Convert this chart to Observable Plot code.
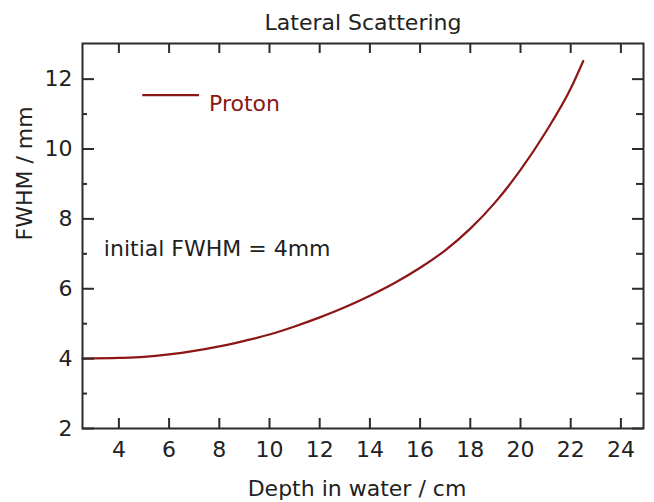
<!DOCTYPE html>
<html>
<head>
<meta charset="utf-8">
<script src="https://cdn.jsdelivr.net/npm/d3@7"></script>
<script src="https://cdn.jsdelivr.net/npm/@observablehq/plot@0.6"></script>
<style>
  html, body { margin: 0; padding: 0; background: #fff; }
  #chart { width: 654px; height: 502px; }
</style>
</head>
<body>
<div id="chart"></div>
<script>
// ---- data ----
const depth = [2.55, 4, 5, 6, 7, 8, 9, 10, 11, 12, 13, 14, 15, 16, 17, 18, 19, 20, 21, 22, 22.5];
const fwhm  = [4.00, 4.02, 4.05, 4.12, 4.22, 4.35, 4.51, 4.69, 4.92, 5.18, 5.47, 5.80, 6.17, 6.60, 7.10, 7.72, 8.48, 9.40, 10.48, 11.73, 12.52];

const xTicks = [4, 6, 8, 10, 12, 14, 16, 18, 20, 22, 24];
const yMajor = [2, 4, 6, 8, 10, 12];
const yMinor = [3, 5, 7, 9, 11];

const title = "Lateral Scattering";
const xLabel = "Depth in water / cm";
const yLabel = "FWHM / mm";
const seriesName = "Proton";
const note = "initial FWHM = 4mm";

// annotation anchors (data units)
const legendLine = {x1: 4.93, x2: 7.19, y: 11.54};
const legendText = {x: 7.59, y: 11.08};
const noteAnchor = {x: 3.40, y: 6.95};

// ---- layout ----
const W = 654, H = 502;
const mL = 82, mR = 11, mT = 43, mB = 74;
const innerW = W - mL - mR, innerH = H - mT - mB;
const ink = "#2b2b2b";
const red = "#8c1616";

const rows = depth.map((d, i) => ({depth: d, fwhm: fwhm[i]}));

const chart = Plot.plot({
  width: W, height: H,
  marginLeft: mL, marginRight: mR, marginTop: mT, marginBottom: mB,
  style: {fontFamily: "DejaVu Sans", fontSize: "22px", color: ink, background: "#fff"},
  x: {domain: [2.55, 24.9]},
  y: {domain: [2, 13.02]},
  marks: [
    // curve
    Plot.line(rows, {x: "depth", y: "fwhm", stroke: red, strokeWidth: 2.2, curve: "monotone-x"}),
    // inward ticks
    Plot.tickX(xTicks, {x: d => d, insetTop: innerH - 10, stroke: ink, strokeWidth: 2}),
    Plot.tickX(xTicks, {x: d => d, insetBottom: innerH - 10, stroke: ink, strokeWidth: 2}),
    Plot.tickY(yMajor, {y: d => d, insetRight: innerW - 12, stroke: ink, strokeWidth: 2}),
    Plot.tickY(yMinor, {y: d => d, insetRight: innerW - 5, stroke: ink, strokeWidth: 2}),
    Plot.tickY(yMajor, {y: d => d, insetLeft: innerW - 11, stroke: ink, strokeWidth: 2}),
    Plot.tickY(yMinor, {y: d => d, insetLeft: innerW - 7, stroke: ink, strokeWidth: 2}),
    // axis labels
    Plot.axisX({ticks: xTicks, tickSize: 0, tickPadding: 13, label: null, fontSize: 22, fill: "#222"}),
    Plot.axisY({ticks: yMajor, tickSize: 0, tickPadding: 10, label: null, fontSize: 22, fill: "#222"}),
    Plot.frame({stroke: ink, strokeWidth: 2}),
    // legend
    Plot.link([legendLine], {x1: "x1", x2: "x2", y1: "y", y2: "y", stroke: red, strokeWidth: 2.2}),
    Plot.text([seriesName], {x: legendText.x, y: legendText.y, text: d => d, textAnchor: "start", lineAnchor: "bottom", fill: red, fontSize: 22}),
    // note
    Plot.text([note], {x: noteAnchor.x, y: noteAnchor.y, text: d => d, textAnchor: "start", lineAnchor: "bottom", fill: "#222", fontSize: 22}),
    // titles
    Plot.text([title], {frameAnchor: "top", dy: -14, lineAnchor: "bottom", text: d => d, fill: "#222", fontSize: 22}),
    Plot.text([xLabel], {frameAnchor: "bottom", dy: 67, dx: -6, lineAnchor: "bottom", text: d => d, fill: "#222", fontSize: 22}),
    Plot.text([yLabel], {frameAnchor: "left", dx: -57.5, dy: 4.5, rotate: -90, lineAnchor: "middle", text: d => d, fill: "#222", fontSize: 22})
  ]
});

document.getElementById("chart").appendChild(chart);
</script>
</body>
</html>
